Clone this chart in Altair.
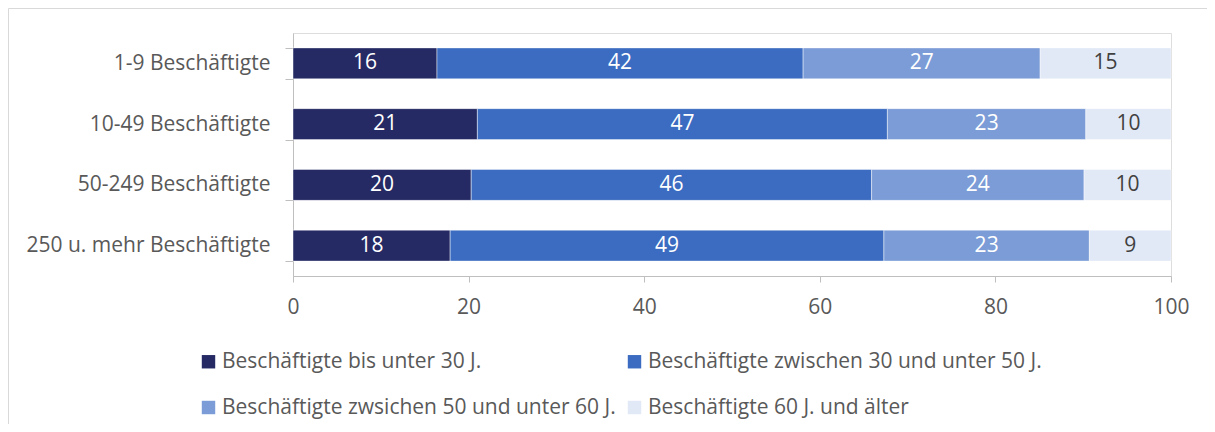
import altair as alt
import pandas as pd

categories = ["1-9 Beschäftigte", "10-49 Beschäftigte", "50-249 Beschäftigte", "250 u. mehr Beschäftigte"]
segments = [
    "Beschäftigte bis unter 30 J.",
    "Beschäftigte zwischen 30 und unter 50 J.",
    "Beschäftigte zwsichen 50 und unter 60 J.",
    "Beschäftigte 60 J. und älter",
]
under30 = [16.4, 21.0, 20.3, 17.9]
from30to50 = [41.7, 46.7, 45.6, 49.4]
from50to60 = [27.0, 22.6, 24.2, 23.4]
over60 = [14.9, 9.7, 9.9, 9.3]
colors = ["#252A64", "#3B6CC1", "#7B9CD6", "#E1E8F6"]
x_ticks = [0, 20, 40, 60, 80, 100]

series = [under30, from30to50, from50to60, over60]
rows = []
for si, (seg, vals) in enumerate(zip(segments, series)):
    for cat, v in zip(categories, vals):
        rows.append({"cat": cat, "seg": seg, "idx": si, "value": v})
df = pd.DataFrame(rows)

FONT = "Open Sans"
FS = 21
GRAY = "#595959"
AXIS = "#BFBFBF"

base = alt.Chart(df).transform_stack(
    stack="value", groupby=["cat"], sort=[alt.SortField("idx", order="ascending")], as_=["x0", "x1"]
).transform_calculate(mid="(datum.x0 + datum.x1) / 2")

y_enc = alt.Y(
    "cat:N",
    sort=categories,
    title=None,
    scale=alt.Scale(paddingInner=0.49, paddingOuter=0.245),
    axis=alt.Axis(
        labelFontSize=FS, labelColor=GRAY, labelPadding=15, tickSize=8, tickColor=AXIS,
        domainColor=AXIS, tickBand="extent", grid=False, labelFont=FONT, labelLimit=400,
    ),
)

bars = base.mark_bar(stroke="white", strokeWidth=0.75, strokeOpacity=0.6).encode(
    x=alt.X(
        "x0:Q",
        title=None,
        scale=alt.Scale(domain=[0, 100], nice=False),
        axis=alt.Axis(
            values=x_ticks, labelFontSize=FS, labelColor=GRAY, tickSize=6, tickColor=AXIS,
            domainColor=AXIS, grid=False, labelPadding=14, labelFont=FONT, labelFlush=False,
        ),
    ),
    x2="x1:Q",
    y=y_enc,
    color=alt.Color(
        "seg:N",
        scale=alt.Scale(domain=segments, range=colors),
        legend=alt.Legend(
            title=None, orient="none", direction="horizontal", legendX=-95, legendY=318, columns=2,
            symbolType="square", symbolSize=180, symbolStrokeWidth=0, labelFontSize=FS,
            labelColor=GRAY, labelFont=FONT, columnPadding=8, rowPadding=24, labelOffset=3,
            labelLimit=600,
        ),
    ),
)

text = base.mark_text(fontSize=FS, font=FONT, baseline="middle").encode(
    x=alt.X("mid:Q"),
    y=alt.Y("cat:N", sort=categories),
    text=alt.Text("value:Q", format=".0f"),
    color=alt.condition(alt.datum.seg == segments[3], alt.value("#404040"), alt.value("white")),
)

frame = alt.Chart(pd.DataFrame({"a": [0]})).mark_rect(
    fillOpacity=0, stroke="#D9D9D9", strokeWidth=1
).encode(
    x=alt.value(-284.5), x2=alt.value(1200), y=alt.value(-24.5), y2=alt.value(600)
)

chart = alt.layer(frame, bars, text).properties(
    width=878,
    height=243,
    padding={"left": 285, "top": 25, "right": 36, "bottom": 148},
    autosize=alt.AutoSizeParams(type="none"),
).configure_view(stroke=None).configure(font=FONT)

chart.save("out.html", embed_options={"renderer": "svg", "actions": False})
